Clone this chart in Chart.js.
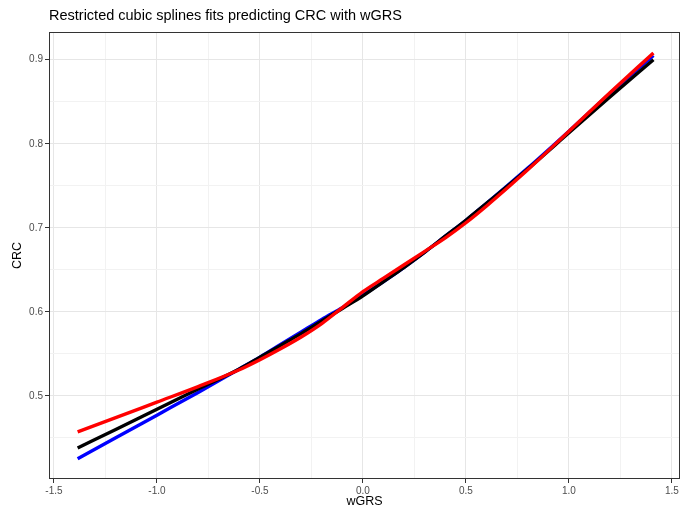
<!DOCTYPE html>
<html>
<head>
<meta charset="utf-8">
<script src="https://cdn.jsdelivr.net/npm/chart.js@4"></script>
<style>
  html, body { margin: 0; padding: 0; background: #fff; }
  #wrap { width: 682px; height: 513px; }
</style>
</head>
<body>
<div id="wrap"><canvas id="rcs"></canvas></div>
<script>
// valores
const wgrs = [-1.385, -1.2, -1.0, -0.8, -0.6, -0.5, -0.4, -0.3, -0.2, -0.1, 0.0, 0.1, 0.2, 0.3, 0.4, 0.5, 0.6, 0.8, 1.0, 1.2, 1.41];
const crcNegro = [0.438, 0.460, 0.484, 0.508, 0.532, 0.546, 0.560, 0.574, 0.589, 0.604, 0.619, 0.636, 0.653, 0.671, 0.690, 0.709, 0.729, 0.770, 0.813, 0.856, 0.900];
const crcAzul = [0.425, 0.450, 0.477, 0.504, 0.532, 0.546, 0.561, 0.576, 0.591, 0.605, 0.620, 0.636, 0.653, 0.671, 0.690, 0.709, 0.729, 0.771, 0.815, 0.860, 0.905];
const crcRojo = [0.457, 0.474, 0.4925, 0.511, 0.531, 0.543, 0.556, 0.570, 0.586, 0.605, 0.624, 0.640, 0.656, 0.672, 0.688, 0.706, 0.726, 0.769, 0.815, 0.861, 0.908];

const xTicks = [-1.5, -1.25, -1.0, -0.75, -0.5, -0.25, 0, 0.25, 0.5, 0.75, 1.0, 1.25, 1.5];
const yTicks = [0.45, 0.5, 0.55, 0.6, 0.65, 0.7, 0.75, 0.8, 0.85, 0.9];

const puntos = (ys) => wgrs.map((x, i) => ({ x: x, y: ys[i] }));
const esMayor = (v) => Math.abs(v * 10 - Math.round(v * 10)) < 1e-6 && Math.abs((v * 10) % 5) < 1e-6;
const esMayorY = (v) => Math.abs(v * 10 - Math.round(v * 10)) < 1e-6;

// borde del panel (theme_bw)
const borde = {
  id: 'borde',
  afterDraw(chart) {
    const a = chart.chartArea, ctx = chart.ctx;
    ctx.save();
    ctx.strokeStyle = '#333333';
    ctx.lineWidth = 1;
    ctx.strokeRect(Math.round(a.left) + 0.5, Math.round(a.top) + 0.5, Math.round(a.right - a.left) - 1, Math.round(a.bottom - a.top) - 1);
    ctx.restore();
  }
};

const linea = (label, ys, color) => ({
  label: label,
  data: puntos(ys),
  borderColor: color,
  backgroundColor: color,
  borderWidth: 3.4,
  pointRadius: 0,
  cubicInterpolationMode: 'monotone',
  fill: false
});

new Chart(document.getElementById('rcs'), {
  type: 'line',
  data: {
    datasets: [
      linea('rojo', crcRojo, '#ff0000'),
      linea('negro', crcNegro, '#000000'),
      linea('azul', crcAzul, '#0000ff')
    ]
  },
  options: {
    responsive: true,
    maintainAspectRatio: false,
    animation: false,
    layout: { padding: { left: 0, right: 2, top: 0, bottom: 0 } },
    plugins: {
      legend: { display: false },
      tooltip: { enabled: false },
      title: {
        display: true,
        fullSize: false,
        align: 'start',
        text: 'Restricted cubic splines fits predicting CRC with wGRS',
        color: '#000000',
        font: { family: 'Liberation Sans', size: 14.5, weight: 'normal', lineHeight: 1.2 },
        padding: { top: 7, bottom: 7.6 }
      }
    },
    scales: {
      x: {
        type: 'linear',
        min: -1.524,
        max: 1.539,
        afterBuildTicks: (s) => { s.ticks = xTicks.map(v => ({ value: v })); },
        afterFit: (s) => { s.height = 34; },
        border: { display: false },
        grid: {
          color: (c) => esMayor(c.tick.value) ? '#e6e6e6' : '#f2f2f2',
          lineWidth: 1,
          tickLength: 4,
          tickColor: (c) => esMayor(c.tick.value) ? '#333333' : 'rgba(0,0,0,0)',
          tickWidth: 1
        },
        ticks: {
          autoSkip: false,
          maxRotation: 0,
          padding: 2,
          color: '#4d4d4d',
          font: { family: 'Liberation Sans', size: 10 },
          callback: (v) => esMayor(v) ? v.toFixed(1) : ''
        },
        title: {
          display: true,
          text: 'wGRS',
          color: '#000000',
          font: { family: 'Liberation Sans', size: 12.5, lineHeight: 1.2 },
          padding: { top: 0, bottom: 3.5 }
        }
      },
      y: {
        type: 'linear',
        min: 0.401,
        max: 0.933,
        afterBuildTicks: (s) => { s.ticks = yTicks.map(v => ({ value: v })); },
        afterFit: (s) => { s.width = 49; },
        border: { display: false },
        grid: {
          color: (c) => esMayorY(c.tick.value) ? '#e6e6e6' : '#f2f2f2',
          lineWidth: 1,
          tickLength: 4,
          tickColor: (c) => esMayorY(c.tick.value) ? '#333333' : 'rgba(0,0,0,0)',
          tickWidth: 1
        },
        ticks: {
          autoSkip: false,
          padding: 2,
          color: '#4d4d4d',
          font: { family: 'Liberation Sans', size: 10 },
          callback: (v) => esMayorY(v) ? v.toFixed(1) : ''
        },
        title: {
          display: true,
          text: 'CRC',
          color: '#000000',
          font: { family: 'Liberation Sans', size: 12.5, lineHeight: 1.2 },
          padding: { top: 10.5, bottom: 0 }
        }
      }
    }
  },
  plugins: [borde]
});
</script>
</body>
</html>
